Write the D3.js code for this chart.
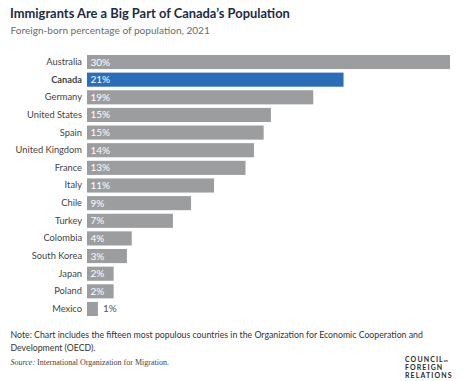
<!DOCTYPE html>
<html><head><meta charset="utf-8">
<script src="https://cdn.jsdelivr.net/npm/d3@7"></script>
<style>body{margin:0;background:#fff}svg{display:block}</style>
</head><body>
<script>
const countries = ["Australia","Canada","Germany","United States","Spain","United Kingdom","France","Italy","Chile","Turkey","Colombia","South Korea","Japan","Poland","Mexico"];
const values = [30.0,21.2,18.7,15.2,14.6,13.8,13.1,10.5,8.6,7.1,3.7,3.3,2.2,2.2,0.9];
const labels = ["30%","21%","19%","15%","15%","14%","13%","11%","9%","7%","4%","3%","2%","2%","1%"];
const highlight = "Canada";

const W=474,H=381;
const svg=d3.select("body").append("svg").attr("width",W).attr("height",H);
const sans="Lato, 'Open Sans', sans-serif";

svg.append("text").attr("x",10).attr("y",17.5).attr("font-family",sans).attr("font-weight",700)
  .attr("font-size",12.9).attr("fill","#1d2b45").text("Immigrants Are a Big Part of Canada’s Population");
svg.append("text").attr("x",10.5).attr("y",34).attr("font-family",sans).attr("font-size",10.1)
  .attr("fill","#6b6b6b").text("Foreign-born percentage of population, 2021");

const x=d3.scaleLinear().domain([0,30]).range([87,450]);
const y=d3.scaleBand().domain(countries).range([53.2,317.8]).paddingInner(0.2).paddingOuter(0.1);

const data=countries.map((c,i)=>({c,v:values[i],l:labels[i]}));
const g=svg.append("g");
g.selectAll("rect").data(data).join("rect")
  .attr("x",x(0)).attr("y",d=>y(d.c)).attr("width",d=>x(d.v)-x(0)).attr("height",y.bandwidth())
  .attr("fill",d=>d.c===highlight?"#2b6db7":"#9c9d9f");

const yAxis=d3.axisLeft(y).tickSize(0).tickPadding(5);
const ax=svg.append("g").attr("transform",`translate(${x(0)},0)`).call(yAxis);
ax.select(".domain").remove();
ax.selectAll("text").attr("font-family",sans).attr("font-size",9.3).attr("fill","#444")
  .attr("font-weight",d=>d===highlight?700:400);

g.selectAll("text.val").data(data).join("text").attr("class","val")
  .attr("x",d=>(x(d.v)-x(0))<20?x(d.v)+5:x(0)+3.5)
  .attr("y",d=>y(d.c)+y.bandwidth()/2).attr("dy","0.35em")
  .attr("font-family",sans).attr("font-size",10)
  .attr("fill",d=>(x(d.v)-x(0))<20?"#555":"#fff").text(d=>d.l);

const note=svg.append("text").attr("font-family",sans).attr("font-size",8.75).attr("fill","#333");
note.append("tspan").attr("x",10.5).attr("y",338).text("Note: Chart includes the fifteen most populous countries in the Organization for Economic Cooperation and");
note.append("tspan").attr("x",10.5).attr("y",351).text("Development (OECD).");

const src=svg.append("text").attr("x",10.5).attr("y",364.5).attr("font-family","'Liberation Serif', serif").attr("font-size",8).attr("fill","#444");
src.append("tspan").attr("font-style","italic").text("Source:");
src.append("tspan").text(" International Organization for Migration.");

const logo=svg.append("g").attr("font-family",sans).attr("font-weight",700).attr("font-size",7).attr("fill","#2a2a2a").attr("letter-spacing",1.1);
logo.append("text").attr("x",405).attr("y",362).text("COUNCIL").append("tspan").attr("font-size",3.5).attr("letter-spacing",0).attr("dx",0).text("on");
logo.append("text").attr("x",405).attr("y",370).text("FOREIGN");
logo.append("text").attr("x",405).attr("y",378).text("RELATIONS");
</script>
</body></html>
